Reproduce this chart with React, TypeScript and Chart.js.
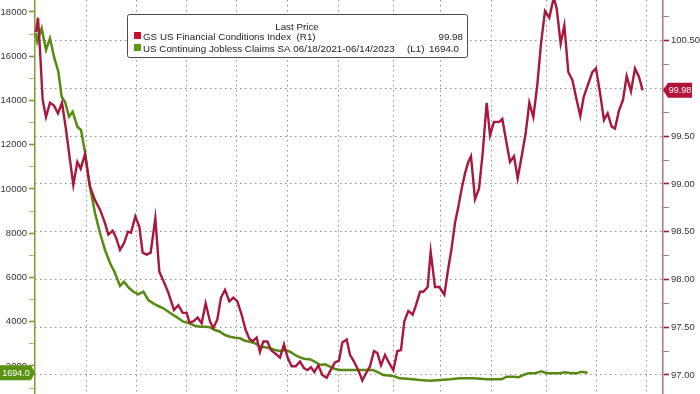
import { useEffect, useRef } from 'react';
import { Chart, registerables } from 'chart.js';

Chart.register(...registerables);

// ---- Data (x = days since 06/18/2021) ----
const FCI_DAYS = [
  0, 2.4, 4.8, 8, 12, 16.8, 21.6, 26.4, 31.2, 36,
  40.8, 44.8, 49.6, 53.6, 58.8, 64.8, 70.8, 76.8, 82.8, 86.8,
  92, 96, 100.8, 105.6, 110.4, 114, 119.2, 124, 128, 132.8,
  137.6, 143.2, 148, 153.6, 158.8, 165.6, 170.8, 176, 180.8, 184,
  188.8, 194, 198.8, 203.6, 208.8, 212.8, 217.6, 222, 226.8, 232,
  236.8, 241.6, 246.8, 251.6, 256, 260, 264.8, 268.8, 272.8, 277.6,
  282, 287.6, 292.8, 297.6, 302, 306.8, 311.6, 316.8, 321.6, 325.6,
  330, 334, 338.8, 343.6, 348.8, 353.6, 358.8, 363.6, 367.6, 372.8,
  376.8, 381.6, 386.8, 391.6, 396.8, 400.8, 405.6, 409.6, 414, 418.8,
  424, 428.8, 433.6, 438, 442, 446.8, 452, 456, 460.8, 464.8,
  470, 473.6, 478.8, 484, 490, 494.8, 498.8, 502.8, 506.8, 510.8,
  514.8, 518.8, 522, 526.8, 531.6, 536, 540.8, 544.8, 549.6, 556,
  559.6, 564, 568.8, 573.6, 578, 582.8, 587.6, 592, 596.8, 601.6,
  606, 610.8, 616, 621.2, 624.8, 629.6, 634, 638.8, 643.6, 648,
  653.2, 657.2, 662.8, 667.6, 672, 677.2, 681.6, 686, 690.8, 694.8,
  699.6, 704.4, 708.8, 714, 718.8, 723.6, 728,
];
const FCI_VALUES = [
  100.59, 100.74, 100.4, 99.88, 99.7, 99.85, 99.82, 99.74, 99.85, 99.57,
  99.25, 98.99, 99.23, 99.16, 99.31, 98.97, 98.83, 98.73, 98.59, 98.47,
  98.51, 98.44, 98.31, 98.38, 98.5, 98.49, 98.66, 98.55, 98.28, 98.26,
  98.28, 98.64, 98.08, 97.97, 97.86, 97.68, 97.73, 97.65, 97.65, 97.55,
  97.56, 97.6, 97.54, 97.75, 97.56, 97.49, 97.58, 97.81, 97.89, 97.77,
  97.81, 97.77, 97.63, 97.47, 97.38, 97.35, 97.39, 97.24, 97.35, 97.35,
  97.26, 97.22, 97.18, 97.32, 97.18, 97.09, 97.09, 97.14, 97.07, 97.05,
  97.08, 97.03, 97.1, 97.0, 96.97, 97.05, 97.13, 97.15, 97.34, 97.37,
  97.21, 97.14, 97.05, 96.94, 97.03, 97.09, 97.25, 97.23, 97.1, 97.21,
  97.12, 97.05, 97.25, 97.26, 97.56, 97.67, 97.63, 97.73, 97.87, 97.87,
  97.92, 98.29, 97.92, 97.92, 97.84, 98.12, 98.33, 98.59, 98.76, 98.95,
  99.11, 99.23, 99.29, 98.84, 98.95, 99.32, 99.85, 99.51, 99.65, 99.65,
  99.68, 99.46, 99.23, 99.29, 99.06, 99.29, 99.53, 99.85, 99.7, 100.04,
  100.47, 100.81, 100.74, 100.95, 100.84, 100.47, 100.66, 100.17, 100.09, 99.91,
  99.71, 99.91, 100.05, 100.17, 100.21, 99.93, 99.67, 99.74, 99.6, 99.58,
  99.77, 99.88, 100.13, 99.97, 100.21, 100.12, 99.98,
];

const CLAIMS_DAYS = [
  0, 1.6, 6.8, 12, 16.8, 21.6, 26.8, 30.8, 34.8, 39.6,
  44, 49.6, 54, 58.8, 62.8, 64.8, 70.8, 76.8, 82.8, 88.8,
  94.8, 100.8, 105.6, 110.8, 116.8, 122.8, 128.8, 134.8, 140.8, 146.8,
  152.8, 158.8, 164.8, 170.8, 176.8, 184, 190.8, 196.8, 202.8, 208.8,
  214.8, 220.8, 226.8, 232.8, 238.8, 244.8, 250.8, 256.8, 262.8, 268.8,
  274.8, 280.8, 286.8, 292.8, 298.8, 304.8, 310.8, 316.8, 322.8, 328.8,
  334.8, 340.8, 346.8, 352.8, 358.8, 364.8, 370.8, 388.8, 404.4, 408.8,
  416.8, 428.8, 436.8, 448.8, 460.8, 472.8, 484.8, 496.8, 508.8, 524.8,
  540.8, 558.8, 564.8, 572.8, 578.8, 584.8, 590.8, 598.8, 606.8, 612.8,
  620.8, 628.8, 634.8, 642.8, 648.8, 654, 662,
];
const CLAIMS_VALUES = [
  17051, 16658, 17263, 16282, 16811, 15980, 15302, 14172, 13946, 13268,
  13494, 12816, 12666, 11672, 10556, 10090, 8915, 8011, 7242, 6655,
  6203, 5615, 5810, 5556, 5358, 5240, 5358, 4982, 4833, 4711,
  4607, 4454, 4304, 4155, 4002, 3929, 3821, 3776, 3776, 3748,
  3626, 3550, 3400, 3323, 3278, 3251, 3143, 3098, 3025, 2872,
  2844, 2799, 2722, 2677, 2722, 2646, 2496, 2392, 2316, 2302,
  2193, 2044, 2076, 1968, 1864, 1818, 1818, 1818, 1818, 1742,
  1592, 1547, 1443, 1412, 1366, 1335, 1366, 1398, 1443, 1443,
  1398, 1398, 1516, 1516, 1488, 1592, 1669, 1669, 1760, 1669,
  1669, 1669, 1714, 1669, 1669, 1742, 1694,
];

const X_GRID_DAYS = [60, 120, 181, 241, 302, 363, 429, 485, 546, 612, 672, 732];
const LEFT_TICKS = [
  1000, 2000, 3000, 4000, 5000, 6000, 7000, 8000, 9000,
  10000, 11000, 12000, 13000, 14000, 15000, 16000, 17000, 18000,
];
const RIGHT_TICKS = [
  97.0, 97.25, 97.5, 97.75, 98.0, 98.25, 98.5, 98.75,
  99.0, 99.25, 99.5, 99.75, 100.0, 100.25, 100.5, 100.75,
];

const LEGEND_TITLE = 'Last Price';
const FCI_NAME = 'GS US Financial Conditions Index  (R1)';
const CLAIMS_NAME = 'US Continuing Jobless Claims SA 06/18/2021-06/14/2023';
const CLAIMS_TAG = '(L1)';

// ---- Styles ----
const RED = '#a8173c';
const RED_BOX = '#b3123a';
const RED_SQ = '#c4122f';
const GREEN = '#568a12';
const GREEN_BOX = '#5a9214';
const GREEN_SQ = '#5d9a12';
const AXIS_L = '#7f9a36';
const AXIS_R = '#a8788a';
const GRID = '#8f8f8f';
const FONT = 'Liberation Sans';

const LAST_F = FCI_VALUES[FCI_VALUES.length - 1];
const LAST_C = CLAIMS_VALUES[CLAIMS_VALUES.length - 1];

const isMajorL = (v: number) => v % 2000 === 0;
const isMajorR = (v: number) => Math.abs(v * 2 - Math.round(v * 2)) < 1e-6;

const overlay = {
  id: 'overlay',
  afterDraw(chart: any) {
    const { ctx, scales, chartArea } = chart;
    ctx.save();

    // Legend box
    ctx.fillStyle = '#ffffff';
    ctx.strokeStyle = '#4a4a4a';
    ctx.lineWidth = 1;
    ctx.beginPath();
    (ctx as any).roundRect(127.5, 14.5, 340, 43, 2);
    ctx.fill();
    ctx.stroke();

    ctx.fillStyle = '#222';
    ctx.font = `9.8px "${FONT}"`;
    ctx.textBaseline = 'alphabetic';
    ctx.textAlign = 'center';
    ctx.fillText(LEGEND_TITLE, 297, 29.5);

    ctx.fillStyle = RED_SQ;
    ctx.fillRect(134, 32, 7, 7);
    ctx.fillStyle = GREEN_SQ;
    ctx.fillRect(134, 44, 7, 7);

    ctx.fillStyle = '#222';
    ctx.textAlign = 'left';
    ctx.fillText(FCI_NAME, 143, 39.8);
    ctx.fillText(CLAIMS_NAME, 143, 51.8);
    ctx.fillText(CLAIMS_TAG, 407, 51.8);
    ctx.textAlign = 'right';
    ctx.fillText(LAST_F.toFixed(2), 463, 39.8);
    ctx.fillText(LAST_C.toFixed(1), 459, 51.8);

    // Left value tag
    const yl = scales.y.getPixelForValue(LAST_C);
    const ax = chartArea.left;
    ctx.fillStyle = GREEN_BOX;
    ctx.beginPath();
    ctx.moveTo(-2, yl - 7.5);
    ctx.lineTo(ax - 4, yl - 7.5);
    ctx.lineTo(ax, yl);
    ctx.lineTo(ax - 4, yl + 7.5);
    ctx.lineTo(-2, yl + 7.5);
    ctx.closePath();
    ctx.fill();
    ctx.fillStyle = '#ffffff';
    ctx.font = `9px "${FONT}"`;
    ctx.textAlign = 'center';
    ctx.textBaseline = 'middle';
    ctx.fillText(LAST_C.toFixed(1), 16, yl + 0.5);

    // Right value tag
    const yr = scales.y1.getPixelForValue(LAST_F);
    const bx = chartArea.right;
    ctx.fillStyle = RED_BOX;
    ctx.beginPath();
    ctx.moveTo(bx, yr);
    ctx.lineTo(bx + 5, yr - 7.5);
    ctx.lineTo(bx + 29, yr - 7.5);
    ctx.lineTo(bx + 29, yr + 7.5);
    ctx.lineTo(bx + 5, yr + 7.5);
    ctx.closePath();
    ctx.fill();
    ctx.fillStyle = '#ffffff';
    ctx.fillText(LAST_F.toFixed(2), bx + 17, yr + 0.5);

    ctx.restore();
  },
};

export default function App() {
  const ref = useRef<HTMLCanvasElement | null>(null);

  useEffect(() => {
    document.body.style.margin = '0';
    document.body.style.overflow = 'hidden';
    Chart.defaults.font.family = FONT;
    const canvas = ref.current;
    if (!canvas) return;

    const chart = new Chart(canvas, {
      type: 'line',
      data: {
        datasets: [
          {
            label: 'GS US Financial Conditions Index',
            data: FCI_DAYS.map((d, i) => ({ x: d, y: FCI_VALUES[i] })),
            yAxisID: 'y1',
            borderColor: RED,
            borderWidth: 2.4,
            pointRadius: 0,
            tension: 0,
            fill: false,
          },
          {
            label: 'US Continuing Jobless Claims SA',
            data: CLAIMS_DAYS.map((d, i) => ({ x: d, y: CLAIMS_VALUES[i] })),
            yAxisID: 'y',
            borderColor: GREEN,
            borderWidth: 2.5,
            pointRadius: 0,
            tension: 0,
            fill: false,
          },
        ],
      },
      options: {
        responsive: false,
        animation: false,
        maintainAspectRatio: false,
        layout: { padding: 0 },
        plugins: {
          legend: { display: false },
          tooltip: { enabled: false },
        },
        scales: {
          x: {
            type: 'linear',
            min: -1.2,
            max: 752.4,
            ticks: { display: false },
            grid: { display: true, drawTicks: false, color: GRID, lineWidth: 1 },
            border: { display: false, dash: [1.5, 3.5] },
            afterBuildTicks: (s: any) => {
              s.ticks = X_GRID_DAYS.map((v) => ({ value: v }));
            },
            afterFit: (s: any) => {
              s.height = 0;
              s.paddingLeft = 0;
              s.paddingRight = 0;
            },
          },
          y: {
            type: 'linear',
            position: 'left',
            min: 734,
            max: 18542,
            ticks: {
              autoSkip: false,
              color: '#333',
              padding: 2,
              font: { family: FONT, size: 9.5 },
              callback: (v: any) => (isMajorL(Number(v)) ? String(v) : ''),
            },
            grid: {
              drawOnChartArea: false,
              drawTicks: true,
              tickLength: 6,
              tickColor: (c: any) => (c.tick && isMajorL(c.tick.value) ? AXIS_L : 'rgba(127,154,54,0.7)'),
              tickWidth: (c: any) => (c.tick && isMajorL(c.tick.value) ? 1.6 : 1),
            },
            border: { display: true, color: AXIS_L, width: 1.5 },
            afterBuildTicks: (s: any) => {
              s.ticks = LEFT_TICKS.map((v) => ({ value: v }));
            },
            afterFit: (s: any) => {
              s.width = 35;
              s.paddingTop = 0;
              s.paddingBottom = 0;
            },
          },
          y1: {
            type: 'linear',
            position: 'right',
            min: 96.8,
            max: 100.926,
            ticks: {
              autoSkip: false,
              color: '#333',
              padding: 2,
              font: { family: FONT, size: 9.5 },
              callback: (v: any) => {
                const n = Number(v);
                if (!isMajorR(n) || Math.abs(n - LAST_F) < 0.1) return '';
                return n.toFixed(2);
              },
            },
            grid: {
              drawOnChartArea: true,
              drawTicks: true,
              tickLength: 6,
              lineWidth: 1,
              color: (c: any) => (c.tick && isMajorR(c.tick.value) ? GRID : 'rgba(0,0,0,0)'),
              tickColor: (c: any) => (c.tick && isMajorR(c.tick.value) ? '#8e1a3c' : AXIS_R),
              tickWidth: (c: any) => (c.tick && isMajorR(c.tick.value) ? 1.6 : 1),
            },
            border: { display: true, color: AXIS_R, width: 1.5, dash: [1.5, 3.5] },
            afterBuildTicks: (s: any) => {
              s.ticks = RIGHT_TICKS.map((v) => ({ value: v }));
            },
            afterFit: (s: any) => {
              s.width = 37;
              s.paddingTop = 0;
              s.paddingBottom = 0;
            },
          },
        },
      },
      plugins: [overlay],
    });

    return () => chart.destroy();
  }, []);

  return (
    <div style={{ width: 700, height: 394, position: 'relative', background: '#fff' }}>
      <canvas ref={ref} width={700} height={394} style={{ display: 'block' }} />
    </div>
  );
}
